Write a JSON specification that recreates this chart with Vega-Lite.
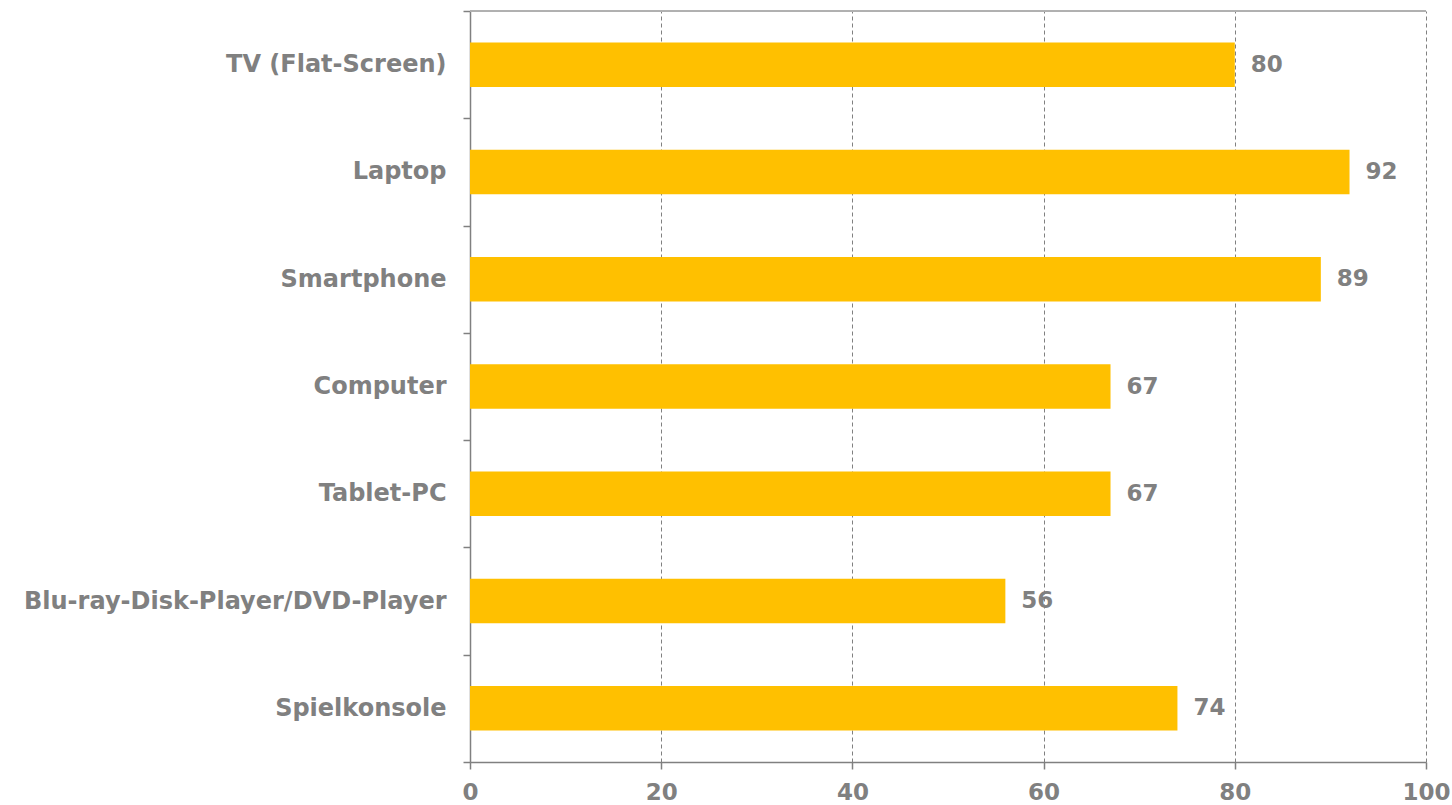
{
  "$schema": "https://vega.github.io/schema/vega-lite/v6.json",
  "width": 956,
  "height": 751,
  "autosize": {"type": "none"},
  "padding": {"left": 470, "top": 11, "right": 26, "bottom": 43},
  "background": "white",
  "config": {
    "view": {"stroke": null},
    "font": "DejaVu Sans",
    "axis": {
      "labelFont": "DejaVu Sans",
      "labelFontWeight": "bold",
      "labelFontSize": 23,
      "labelColor": "#808080",
      "labelLimit": 600,
      "domainColor": "#808080",
      "domainWidth": 1.5,
      "tickColor": "#808080",
      "tickWidth": 1.5,
      "tickSize": 7,
      "title": null
    }
  },
  "data": {
    "values": [
      {"device": "TV (Flat-Screen)", "value": 80},
      {"device": "Laptop", "value": 92},
      {"device": "Smartphone", "value": 89},
      {"device": "Computer", "value": 67},
      {"device": "Tablet-PC", "value": 67},
      {"device": "Blu-ray-Disk-Player/DVD-Player", "value": 56},
      {"device": "Spielkonsole", "value": 74}
    ]
  },
  "encoding": {
    "y": {
      "field": "device",
      "type": "nominal",
      "sort": null,
      "scale": {"paddingInner": 0, "paddingOuter": 0},
      "axis": {
        "tickBand": "extent",
        "labelPadding": 17,
        "labelFontSize": 24,
        "grid": false
      }
    },
    "x": {
      "field": "value",
      "type": "quantitative",
      "scale": {"domain": [0, 100], "nice": false},
      "axis": {
        "values": [0, 20, 40, 60, 80, 100],
        "grid": true,
        "gridColor": "#808080",
        "gridDash": [4, 3],
        "gridWidth": 1,
        "labelPadding": 12,
        "labelFlush": false
      }
    }
  },
  "layer": [
    {
      "mark": {"type": "bar", "color": "#FFC000", "height": {"band": 0.415}}
    },
    {
      "mark": {
        "type": "text",
        "align": "left",
        "baseline": "middle",
        "dx": 16,
        "font": "DejaVu Sans",
        "fontWeight": "bold",
        "fontSize": 23,
        "color": "#808080"
      },
      "encoding": {"text": {"field": "value", "type": "quantitative"}}
    },
    {
      "mark": {"type": "rule", "color": "#b0b0b0", "strokeWidth": 1},
      "encoding": {
        "x": {"datum": 0},
        "x2": {"datum": 100},
        "y": {"value": 0}
      }
    }
  ]
}
